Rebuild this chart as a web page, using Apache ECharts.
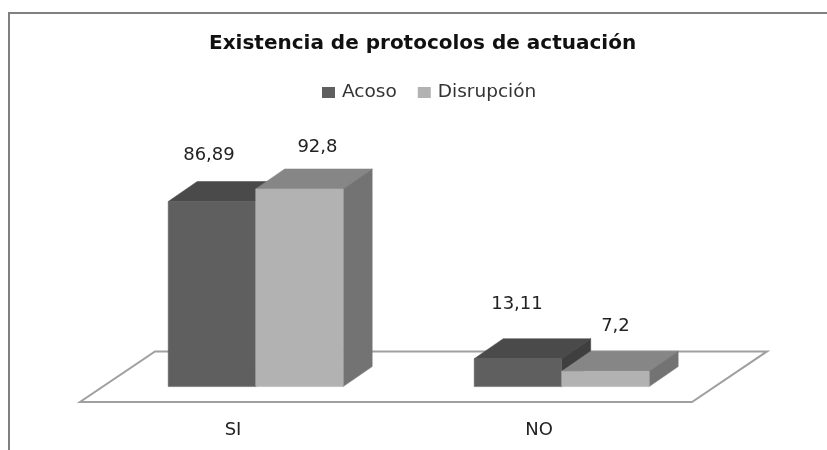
<!DOCTYPE html>
<html>
<head>
<meta charset="utf-8">
<style>html,body{margin:0;padding:0;background:#fff}#c{width:827px;height:450px}</style>
<script src="https://cdn.jsdelivr.net/npm/echarts@6/dist/echarts.min.js"></script>
</head>
<body>
<div id="c"></div>
<script>
const categories = ['SI', 'NO'];
const acoso = [86.89, 13.11];
const disrupcion = [92.8, 7.2];
const titleText = 'Existencia de protocolos de actuación';

const FONT = '"DejaVu Sans", sans-serif';
const BAR_W = 87.5, SHIFT_X = 22.7, SHIFT_Y = -15.4, DEPTH_X = 29, DEPTH_Y = -20;
const FLOOR_X = 75, FLOOR_Y = -50.6;
const fmt = v => String(v).replace('.', ',');

function poly(points, fill) {
  return { type: 'polygon', shape: { points }, style: { fill, stroke: fill, lineWidth: 0.5 } };
}
function barRenderer(side, colors, labelShift) {
  return function (params, api) {
    const i = api.value(0), v = api.value(1);
    const base = api.coord([i, 0]), top = api.coord([i, v]);
    const x0 = base[0] + SHIFT_X + (side < 0 ? -BAR_W : 0), x1 = x0 + BAR_W;
    const yb = base[1] + SHIFT_Y, yt = top[1] + SHIFT_Y;
    const s = labelShift[params.dataIndex];
    return { type: 'group', children: [
      poly([[x0, yt], [x0 + DEPTH_X, yt + DEPTH_Y], [x1 + DEPTH_X, yt + DEPTH_Y], [x1, yt]], colors.top),
      poly([[x1, yb], [x1, yt], [x1 + DEPTH_X, yt + DEPTH_Y], [x1 + DEPTH_X, yb + DEPTH_Y]], colors.side),
      poly([[x0, yb], [x0, yt], [x1, yt], [x1, yb]], colors.front),
      { type: 'text', z2: 50, style: { text: fmt(v), x: (x0 + x1) / 2 + s[0], y: yt + s[1],
        align: 'center', verticalAlign: 'middle', font: '18px ' + FONT, fill: '#222' } }
    ] };
  };
}
function toPairs(arr) { return arr.map((v, i) => [i, v]); }

const chart = echarts.init(document.getElementById('c'), null, { renderer: 'canvas' });
chart.setOption({
  animation: false,
  backgroundColor: '#fff',
  title: { text: titleText, left: 209, top: 34, padding: 0,
    textStyle: { fontFamily: FONT, fontSize: 20, fontWeight: 'bold', color: '#111' } },
  legend: { left: 322, top: 83, padding: 0, itemWidth: 13, itemHeight: 11, itemGap: 21, icon: 'rect',
    data: ['Acoso', 'Disrupción'],
    textStyle: { fontFamily: FONT, fontSize: 18.5, color: '#333', padding: [0, 0, 0, 2] } },
  grid: { left: 80, top: 189, width: 612, height: 213 },
  xAxis: { type: 'category', data: categories,
    axisLine: { show: false }, axisTick: { show: false },
    axisLabel: { fontFamily: FONT, fontSize: 18, color: '#222', margin: 19 } },
  yAxis: { type: 'value', min: 0, max: 100, show: false, splitLine: { show: false } },
  graphic: [{ type: 'polyline', silent: true, z: -10,
    shape: { points: [[9, 450], [9, 13], [827, 13]] },
    style: { stroke: '#808080', lineWidth: 2, fill: 'none' } }],
  series: [
    { type: 'custom', name: 'floor', coordinateSystem: 'cartesian2d', silent: true, z: 1, clip: false,
      data: [[0, 0]],
      renderItem(params) {
        const g = params.coordSys, yb = g.y + g.height, xl = g.x, xr = g.x + g.width;
        return { type: 'polygon', shape: { points: [[xl, yb], [xr, yb], [xr + FLOOR_X, yb + FLOOR_Y], [xl + FLOOR_X, yb + FLOOR_Y]] },
          style: { fill: '#fff', stroke: '#a0a0a0', lineWidth: 2 } };
      } },
    { type: 'custom', name: 'Acoso', coordinateSystem: 'cartesian2d', z: 2, clip: false,
      itemStyle: { color: '#5f5f5f' }, data: toPairs(acoso),
      renderItem: barRenderer(-1, { front: '#5f5f5f', top: '#4a4a4a', side: '#3f3f3f' }, [[-3, -46], [-1, -54]]) },
    { type: 'custom', name: 'Disrupción', coordinateSystem: 'cartesian2d', z: 3, clip: false,
      itemStyle: { color: '#b2b2b2' }, data: toPairs(disrupcion),
      renderItem: barRenderer(1, { front: '#b2b2b2', top: '#868686', side: '#737373' }, [[18, -42], [10, -45]]) }
  ]
});
</script>
</body>
</html>
